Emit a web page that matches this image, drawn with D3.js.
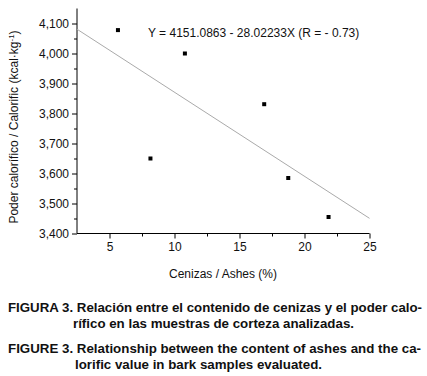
<!DOCTYPE html>
<html>
<head>
<meta charset="utf-8">
<script src="https://cdn.jsdelivr.net/npm/d3@7"></script>
<style>
  body { margin: 0; background: #fff; }
  text { font-family: Arial, "Liberation Sans", sans-serif; }
</style>
</head>
<body>
<div id="chart"></div>
<script>
// data
const ashes = [5.65, 10.8, 16.9, 8.15, 18.75, 21.85];
const calorific = [4078, 4000, 3831, 3650, 3585, 3455];
const xTicks = [5, 10, 15, 20, 25];
const yTicks = [3400, 3500, 3600, 3700, 3800, 3900, 4000, 4100];
const intercept = 4151.0863;
const slope = -28.02233;
const equation = 'Y = 4151.0863 - 28.02233X (R = - 0.73)';
// text, left x, baseline y, width
const captionLines = [
  ['FIGURA 3. Relación entre el contenido de cenizas y el poder calo-', 8, 312, 414],
  ['rífico en las muestras de corteza analizadas.', 73, 328, 281],
  ['FIGURE 3. Relationship between the content of ashes and the ca-', 8, 353, 413],
  ['lorific value in bark samples evaluated.', 75, 369, 247]
];

const width = 427;
const height = 376;

const svg = d3.select('#chart')
  .append('svg')
  .attr('width', width)
  .attr('height', height);

// scales
const x = d3.scaleLinear()
  .domain([2.5, 25])
  .range([77, 369.5]);

const y = d3.scaleLinear()
  .domain([3400, 4150])
  .range([233.5, 8.5]);

const g = svg.append('g');

// y axis with minor ticks
const axisY = d3.axisLeft(y)
  .tickValues(yTicks)
  .tickSize(5)
  .tickPadding(3)
  .tickFormat(d3.format(','));
const gy = g.append('g')
  .attr('transform', `translate(${x.range()[0]},0)`)
  .call(axisY);
gy.select('.domain').attr('d', `M0,${y(3400)}V${y(4150)}`);

const minorY = d3.range(3450, 4150, 100);
gy.selectAll('.minor')
  .data(minorY)
  .enter()
  .append('line')
  .attr('class', 'minor')
  .attr('x1', 0).attr('x2', -3)
  .attr('y1', d => y(d) + 0.5).attr('y2', d => y(d) + 0.5)
  .attr('stroke', '#000');

// x axis with minor ticks
const axisX = d3.axisBottom(x)
  .tickValues(xTicks)
  .tickSize(5)
  .tickPadding(4);
const gx = g.append('g')
  .attr('transform', `translate(0,${y.range()[0]})`)
  .call(axisX);
gx.select('.domain').attr('d', `M${x(2.5)},0H${x(25)}`);

const minorX = [7.5, 12.5, 17.5, 22.5];
gx.selectAll('.minor')
  .data(minorX)
  .enter()
  .append('line')
  .attr('class', 'minor')
  .attr('x1', d => x(d) + 0.5).attr('x2', d => x(d) + 0.5)
  .attr('y1', 0).attr('y2', 3)
  .attr('stroke', '#000');

[gx, gy].forEach(a => {
  a.selectAll('text').attr('font-size', 12).attr('fill', '#111')
    .attr('font-family', 'Arial, "Liberation Sans", sans-serif');
  a.selectAll('path, line').attr('stroke', '#000');
});

// regression line
const xd = x.domain();
g.append('line')
  .attr('x1', x(xd[0])).attr('y1', y(intercept + slope * xd[0]))
  .attr('x2', x(xd[1])).attr('y2', y(intercept + slope * xd[1]))
  .attr('stroke', '#aaa')
  .attr('stroke-width', 1);

// points
const pts = ashes.map((a, i) => ({ a, c: calorific[i] }));
g.selectAll('.pt')
  .data(pts)
  .enter()
  .append('rect')
  .attr('class', 'pt')
  .attr('x', d => x(d.a) - 2)
  .attr('y', d => y(d.c) - 2)
  .attr('width', 4)
  .attr('height', 4)
  .attr('fill', '#000');

// equation
g.append('text')
  .attr('x', 148)
  .attr('y', 37)
  .attr('font-size', 12)
  .attr('fill', '#111')
  .text(equation);

// axis titles
g.append('text')
  .attr('x', 223)
  .attr('y', 278)
  .attr('text-anchor', 'middle')
  .attr('font-size', 12)
  .attr('fill', '#111')
  .text('Cenizas / Ashes (%)');

g.append('text')
  .attr('transform', 'translate(18,127) rotate(-90)')
  .attr('text-anchor', 'middle')
  .attr('font-size', 12)
  .attr('fill', '#111')
  .text('Poder calorífico / Calorific (kcal·kg')
  .append('tspan')
  .attr('dy', -4)
  .attr('font-size', 8)
  .text('-1')
  .select(function () { return this.parentNode; })
  .append('tspan')
  .attr('dy', 4)
  .text(')');

// caption
svg.selectAll('.cap')
  .data(captionLines)
  .enter()
  .append('text')
  .attr('class', 'cap')
  .attr('x', d => d[1])
  .attr('y', d => d[2])
  .attr('textLength', d => d[3])
  .attr('lengthAdjust', 'spacingAndGlyphs')
  .attr('font-size', 12.5)
  .attr('font-weight', 'bold')
  .attr('fill', '#111')
  .text(d => d[0]);
</script>
</body>
</html>
